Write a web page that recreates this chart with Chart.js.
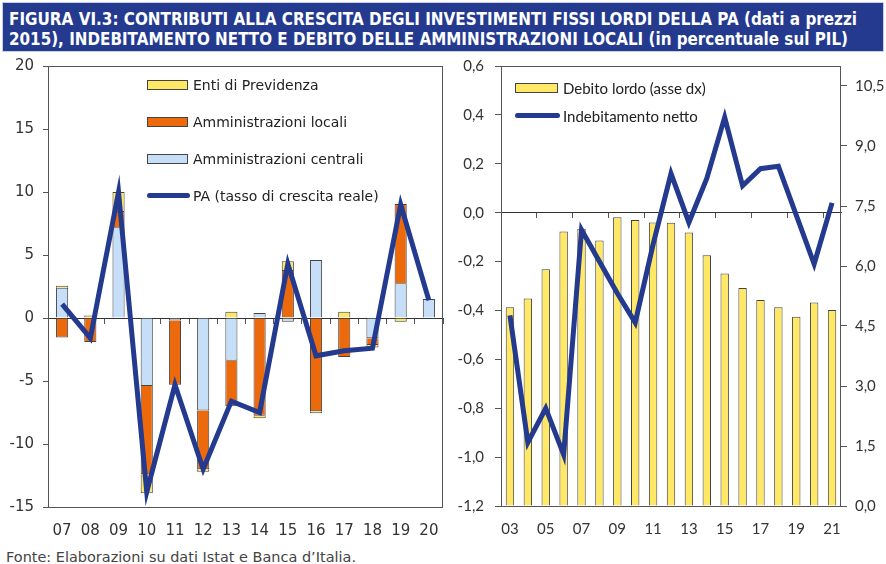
<!DOCTYPE html>
<html>
<head>
<meta charset="utf-8">
<script src="https://cdn.jsdelivr.net/npm/chart.js@4.4.1/dist/chart.umd.min.js"></script>
<style>
    body { margin: 0; width: 886px; height: 564px; background: #fff; position: relative; overflow: hidden; }
    .banner { position: absolute; left: 2px; top: 2px; width: 882px; height: 50px; background: #233a8f; border: 1px solid #c9cfe2; box-sizing: border-box; }
    .title { position: absolute; left: 9px; color: #fff; font-family: "DejaVu Sans", sans-serif; font-weight: bold; font-size: 18px; line-height: 20px; white-space: nowrap; transform-origin: left center; }
    .chartbox { position: absolute; }
    .legend { position: absolute; font-size: 14px; color: #222; }
    .legend .row { position: absolute; white-space: nowrap; height: 20px; line-height: 20px; }
    .legend .sw { position: absolute; top: 5px; height: 8px; border: 1px solid #444; }
    .legend .ln { position: absolute; top: 7px; height: 5px; border-radius: 3px; background: #233a8f; }
    .note { position: absolute; left: 6px; top: 549px; font-family: "DejaVu Sans", sans-serif; font-size: 14px; color: #444; white-space: nowrap; transform-origin: left center; }
</style>
</head>
<body>
<div class="banner"></div>
<div class="title" id="t1" style="top: 9px;">FIGURA VI.3: CONTRIBUTI ALLA CRESCITA DEGLI INVESTIMENTI FISSI LORDI DELLA PA (dati a prezzi</div>
<div class="title" id="t2" style="top: 29px;">2015), INDEBITAMENTO NETTO E DEBITO DELLE AMMINISTRAZIONI LOCALI (in percentuale sul PIL)</div>

<div class="chartbox" style="left:0; top:48px; width:448px; height:497px;"><canvas id="chartLeft"></canvas></div>
<div class="chartbox" style="left:455px; top:46px; width:431px; height:498px;"><canvas id="chartRight"></canvas></div>

<div class="legend" style="font-family: 'DejaVu Sans', sans-serif;">
    <div class="row" style="left:147px; top:75px;"><span class="sw" style="left:0; width:39px; background:#ffe866;"></span><span style="margin-left:46px;">Enti di Previdenza</span></div>
    <div class="row" style="left:147px; top:112px;"><span class="sw" style="left:0; width:39px; background:#ec6a0c;"></span><span style="margin-left:46px;">Amministrazioni locali</span></div>
    <div class="row" style="left:147px; top:149px;"><span class="sw" style="left:0; width:39px; background:#c6def7;"></span><span style="margin-left:46px;">Amministrazioni centrali</span></div>
    <div class="row" style="left:147px; top:186px;"><span class="ln" style="left:0; width:43px;"></span><span style="margin-left:46px;">PA (tasso di crescita reale)</span></div>
</div>
<div class="legend" style="font-family: Lato, sans-serif; font-size: 15px;">
    <div class="row" style="left:515px; top:78px;"><span class="sw" style="left:0; width:41px; background:#ffe866;"></span><span style="margin-left:48px;">Debito lordo (asse dx)</span></div>
    <div class="row" style="left:515px; top:106px;"><span class="ln" style="left:0; width:45px;"></span><span style="margin-left:48px;">Indebitamento netto</span></div>
</div>

<div class="note" id="note">Fonte: Elaborazioni su dati Istat e Banca d’Italia.</div>

<script>
// ---- dati grafico sinistro (contributi alla crescita) ----
var anniSx = ['07', '08', '09', '10', '11', '12', '13', '14', '15', '16', '17', '18', '19', '20'];
var ammCentrali = [2.4, 0, 7.2, -5.4, -0.2, -7.35, -3.4, 0.4, -0.3, 4.6, 0, -1.6, 2.75, 1.5];
var ammLocali = [-1.55, -1.9, 1.3, -7.0, -5.1, -4.65, -3.6, -7.75, 3.8, -7.4, -3.1, -0.55, 6.3, 0];
var entiPrevidenza = [0.15, 0.2, 1.5, -1.5, 0, -0.2, 0.5, -0.2, 0.7, -0.15, 0.5, -0.2, -0.3, 0];
var paCrescita = [1.1, -1.6, 10.0, -13.8, -5.3, -12.0, -6.6, -7.5, 4.3, -3.0, -2.6, -2.4, 9.0, 1.4];

// ---- dati grafico destro (debito e indebitamento) ----
var anniDx = ['03', '04', '05', '06', '07', '08', '09', '10', '11', '12', '13', '14', '15', '16', '17', '18', '19', '20', '21'];
var debitoLordo = [4.97, 5.19, 5.92, 6.86, 6.93, 6.64, 7.22, 7.15, 7.09, 7.08, 6.84, 6.27, 5.81, 5.45, 5.15, 4.97, 4.73, 5.09, 4.9];
var indebNetto = [-0.42, -0.94, -0.80, -0.99, -0.07, -0.20, -0.33, -0.45, -0.13, 0.16, -0.04, 0.14, 0.39, 0.11, 0.18, 0.19, -0.01, -0.21, 0.04];

var BLU = '#233a8f';
var BORDO = '#444';

// cornice attorno all'area del grafico
var framePlugin = {
    id: 'frame',
    afterDraw: function (chart) {
        var a = chart.chartArea;
        var ctx = chart.ctx;
        ctx.save();
        ctx.strokeStyle = '#555';
        ctx.lineWidth = 1;
        ctx.strokeRect(a.left + 0.5, a.top + 0.5, a.right - a.left - 1, a.bottom - a.top);
        ctx.restore();
    }
};

function virgola(v) {
    return v.toFixed(1).replace('.', ',');
}

Chart.defaults.animation = false;
Chart.defaults.responsive = true;
Chart.defaults.maintainAspectRatio = false;
Chart.defaults.plugins.legend.display = false;
Chart.defaults.plugins.tooltip.enabled = false;

var ctx1 = document.getElementById('chartLeft').getContext('2d');
new Chart(ctx1, {
    type: 'bar',
    data: {
        labels: anniSx,
        datasets: [{
            type: 'line',
            label: 'PA (tasso di crescita reale)',
            data: paCrescita,
            borderColor: BLU,
            borderWidth: 5,
            pointRadius: 0,
            tension: 0,
            order: 0
        }, {
            label: 'Amministrazioni centrali',
            data: ammCentrali,
            backgroundColor: '#c6def7',
            borderColor: BORDO,
            borderWidth: 1,
            barPercentage: 0.43,
            categoryPercentage: 1,
            order: 1
        }, {
            label: 'Amministrazioni locali',
            data: ammLocali,
            backgroundColor: '#ec6a0c',
            borderColor: BORDO,
            borderWidth: 1,
            barPercentage: 0.43,
            categoryPercentage: 1,
            order: 1
        }, {
            label: 'Enti di Previdenza',
            data: entiPrevidenza,
            backgroundColor: '#ffe866',
            borderColor: BORDO,
            borderWidth: 1,
            barPercentage: 0.43,
            categoryPercentage: 1,
            order: 1
        }]
    },
    options: {
        layout: { padding: { top: 0, right: 5, left: 0, bottom: 0 } },
        scales: {
            x: {
                stacked: true,
                grid: { display: false },
                border: { display: false },
                ticks: { color: '#333', padding: 7, font: { family: 'DejaVu Sans', size: 15 }, autoSkip: false, maxRotation: 0 },
                afterFit: function (s) { s.height = 38; }
            },
            xZero: {
                type: 'category',
                position: { y: 0 },
                offset: true,
                grid: { offset: true, drawOnChartArea: false, tickLength: 5, color: '#555' },
                border: { display: true, color: '#333', width: 1 },
                ticks: { display: false }
            },
            y: {
                stacked: true,
                min: -15,
                max: 20,
                ticks: { stepSize: 5, color: '#333', padding: 9, font: { family: 'DejaVu Sans', size: 15 }, callback: function (v) { return String(v); } },
                grid: { drawOnChartArea: false, tickLength: 5, color: '#555' },
                border: { display: false },
                afterFit: function (s) { s.width = 48; }
            }
        }
    },
    plugins: [framePlugin]
});

var ctx2 = document.getElementById('chartRight').getContext('2d');
new Chart(ctx2, {
    type: 'bar',
    data: {
        labels: anniDx,
        datasets: [{
            type: 'line',
            label: 'Indebitamento netto',
            data: indebNetto,
            yAxisID: 'y',
            borderColor: BLU,
            borderWidth: 5,
            pointRadius: 0,
            tension: 0,
            order: 0
        }, {
            label: 'Debito lordo (asse dx)',
            data: debitoLordo,
            yAxisID: 'y1',
            backgroundColor: '#ffe866',
            borderColor: BORDO,
            borderWidth: 1,
            barPercentage: 0.47,
            categoryPercentage: 1,
            order: 1
        }]
    },
    options: {
        layout: { padding: { top: 0, right: 0, left: 0, bottom: 0 } },
        scales: {
            x: {
                grid: { display: false },
                border: { display: false },
                ticks: {
                    color: '#333', padding: 6, font: { family: 'Lato', size: 15 }, autoSkip: false, maxRotation: 0,
                    callback: function (v, i) { return i % 2 === 0 ? anniDx[i] : ''; }
                },
                afterFit: function (s) { s.height = 38; }
            },
            xZero: {
                type: 'category',
                position: { y: 0 },
                offset: true,
                grid: {
                    offset: true, drawOnChartArea: false, tickLength: 5,
                    color: function (c) { return (c.index > 0 && c.index % 2 === 0) ? '#555' : 'rgba(0,0,0,0)'; }
                },
                border: { display: true, color: '#333', width: 1 },
                ticks: { display: false }
            },
            y: {
                position: 'left',
                min: -1.2,
                max: 0.6,
                ticks: { stepSize: 0.2, color: '#333', padding: 11, font: { family: 'Lato', size: 15 }, callback: virgola },
                grid: { drawOnChartArea: false, tickLength: 6, color: '#555' },
                border: { display: false },
                afterFit: function (s) { s.width = 46; }
            },
            y1: {
                position: 'right',
                min: 0,
                max: 11,
                ticks: {
                    stepSize: 1.5, color: '#333', padding: 8, font: { family: 'Lato', size: 15 },
                    callback: function (v) { return v > 10.6 ? '' : virgola(v); }
                },
                grid: {
                    drawOnChartArea: false, tickLength: 6,
                    color: function (c) { return (c.tick && c.tick.value > 10.6) ? 'rgba(0,0,0,0)' : '#555'; }
                },
                border: { display: false },
                afterFit: function (s) { s.width = 45; }
            }
        }
    },
    plugins: [framePlugin]
});

// comprime il titolo alla larghezza originale
function stringi(id, larghezza) {
    var el = document.getElementById(id);
    var w = el.getBoundingClientRect().width;
    el.style.transform = 'scaleX(' + (larghezza / w) + ')';
}
stringi('t1', 848);
stringi('t2', 839);
stringi('note', 350);
</script>
</body>
</html>
